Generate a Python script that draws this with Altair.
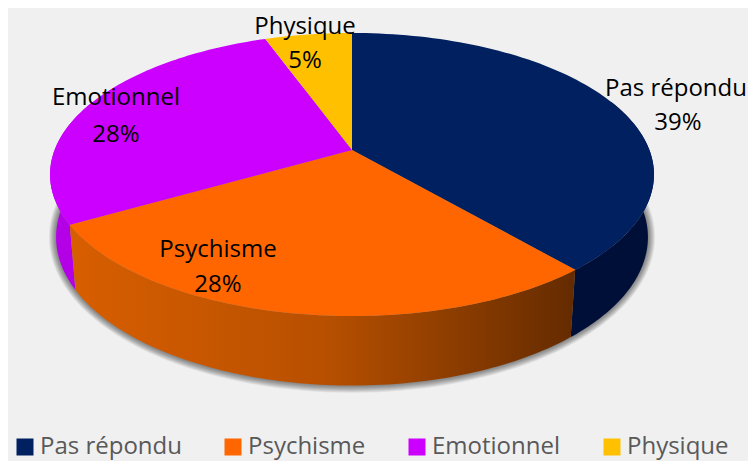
import math
import altair as alt

names = ["Pas répondu", "Psychisme", "Emotionnel", "Physique"]
shares = [38.7, 28, 27.8, 5.5]
percent_labels = ["39%", "28%", "28%", "5%"]
top_colors = ["#002060", "#ff6600", "#cc00ff", "#ffc000"]

# drawing parameters of the perspective disc
CX, CY = 352, 150
A, B, K = 297.4, 137.3, 0.1732
DROP, XS, YS = 61.5, 0.98, 1.048
FONT = "Open Sans"
FS = 24


def top_pt(t):
    u, v = math.sin(t), math.cos(t)
    d = 1 + K * v
    return (CX + A * u / d, CY - B * v / d)


def bot_pt(t, grow=0.0):
    x, y = top_pt(t)
    bx = CX + XS * (x - CX)
    by = CY + DROP + YS * (y - CY)
    ecy = CY + DROP + YS * 24.5
    return (CX + (bx - CX) * (1 + grow / 295), ecy + (by - ecy) * (1 + grow / 145))


def arc_ts(a0, a1, n=90):
    return [a0 + (a1 - a0) * i / n for i in range(n + 1)]


def feature(ring, name):
    ring = [list(p) for p in ring]
    ring.append(ring[0])
    return {"type": "Feature", "name": name, "properties": {},
            "geometry": {"type": "Polygon", "coordinates": [ring]}}


total = sum(shares)
edges = [0.0]
for s in shares:
    edges.append(edges[-1] + s / total * 2 * math.pi)

projection = alt.Projection(type="identity", scale=1, translate=[-8, -8])

top_features = []
for i, n in enumerate(names):
    ring = [(CX, CY)] + [top_pt(t) for t in arc_ts(edges[i], edges[i + 1])]
    top_features.append(feature(ring, n))

VIS0, VIS1 = math.radians(68), math.radians(292)


def wall(i):
    a0, a1 = max(edges[i], VIS0), min(edges[i + 1], VIS1)
    ts = arc_ts(a0, a1)
    return feature([top_pt(t) for t in ts] + [bot_pt(t) for t in reversed(ts)], names[i])


def geo(features, **mark):
    return alt.Chart(alt.Data(values=features)).mark_geoshape(
        strokeWidth=0, **mark).project(**projection.to_dict())


layers = []
full = arc_ts(0, 2 * math.pi, 180)
for g in [7, 6, 5, 4, 3, 2, 1]:
    layers.append(geo([feature([bot_pt(t, g) for t in full], "shadow")],
                      fill="#000000", fillOpacity=0.075))

layers.append(geo([wall(0)], fill="#000f38"))
layers.append(geo([wall(2)], fill="#b400e6"))
layers.append(geo([wall(1)], fill=alt.Gradient(
    gradient="linear", x1=0, x2=1, y1=0, y2=0,
    stops=[alt.GradientStop(color="#d85e00", offset=0),
           alt.GradientStop(color="#b85000", offset=0.5),
           alt.GradientStop(color="#642b00", offset=1)])))

legend = alt.Legend(
    title=None, orient="none", legendX=5, legendY=427, direction="horizontal",
    columns=4, symbolType="square", symbolSize=289, symbolStrokeWidth=0,
    labelFont=FONT, labelFontSize=FS, labelColor="#595959", labelLimit=300,
    columnPadding=39, labelOffset=3, symbolOpacity=1, padding=0,
)
layers.append(
    alt.Chart(alt.Data(values=top_features)).mark_geoshape(strokeWidth=0)
    .encode(color=alt.Color("name:N",
                            scale=alt.Scale(domain=names, range=top_colors),
                            sort=names, legend=legend))
    .project(**projection.to_dict())
)

# label placement: (name centre x, name centre y, percent centre x, percent centre y)
placement = {
    "Pas répondu": (676, 89, 678, 123),
    "Psychisme": (218, 250, 218, 285),
    "Emotionnel": (116, 98, 116, 135),
    "Physique": (305, 27, 305, 61),
}
rows = []
for n, p in zip(names, percent_labels):
    nx, ny, px, py = placement[n]
    rows.append({"text": n, "px": nx - 8, "py": ny - 8})
    rows.append({"text": p, "px": px - 8, "py": py - 8})

layers.append(
    alt.Chart(alt.Data(values=rows))
    .mark_text(font=FONT, fontSize=FS, color="#000000", align="center", baseline="middle")
    .encode(x=alt.X("px:Q", scale=None, axis=None),
            y=alt.Y("py:Q", scale=None, axis=None),
            text="text:N")
)

chart = (
    alt.layer(*layers)
    .properties(width=740, height=453, background="#f0f0f0",
                padding=0, autosize=alt.AutoSizeParams(type="none"))
    .configure_view(stroke=None)
)
chart.save("out.html", embed_options={"renderer": "svg", "actions": False})
